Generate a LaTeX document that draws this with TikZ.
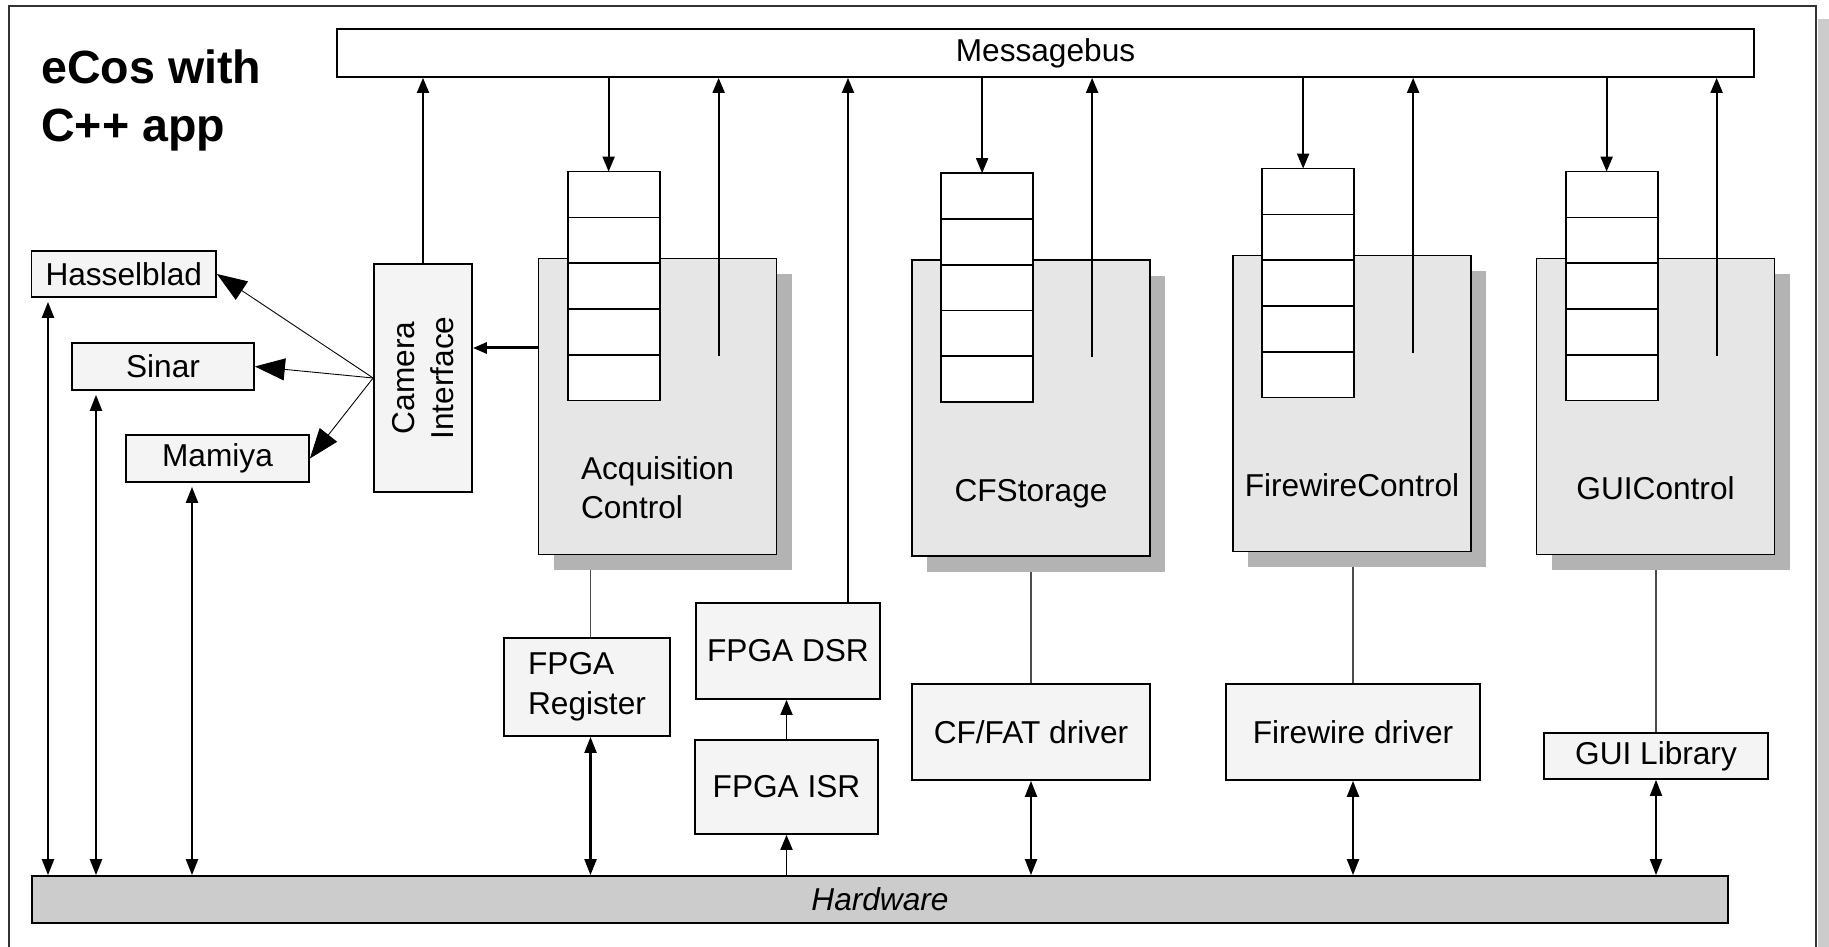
\documentclass[tikz,border=0pt]{standalone}
\usepackage{fontspec}
\setmainfont{Liberation Sans}
\usepackage{graphicx}
\usetikzlibrary{arrows.meta, positioning, shadows, backgrounds}
\definecolor{boxgray}{HTML}{F4F4F4}
\definecolor{modgray}{HTML}{E6E6E6}
\definecolor{shadowgray}{HTML}{B3B3B3}
\definecolor{hwgray}{HTML}{CCCCCC}
\tikzset{
    box/.style={rectangle, draw=black, line width=1pt, fill=boxgray, inner sep=0pt, align=center},
    module/.style={box, fill=modgray, minimum width=4.76cm, minimum height=5.92cm,
        drop shadow={shadow xshift=0.3cm, shadow yshift=-0.32cm, fill=shadowgray, opacity=1}},
    qcell/.style={rectangle, draw=black, line width=1pt, fill=white, minimum width=1.84cm, minimum height=0.916cm, inner sep=0pt, outer sep=0pt},
    title/.style={font=\fontsize{26.5}{33}\selectfont\bfseries, align=left, inner sep=0pt},
    arrow/.style={-{Triangle[length=0.3cm, width=0.24cm]}, line width=1.1pt},
    thickarrow/.style={-{Triangle[length=0.28cm, width=0.22cm]}, line width=1.7pt},
    dblarrow/.style={{Triangle[length=0.32cm, width=0.24cm]}-{Triangle[length=0.32cm, width=0.24cm]}, line width=1.2pt},
    fanarrow/.style={-{Triangle[length=0.6cm, width=0.44cm]}, line width=0.5pt},
    link/.style={line width=0.6pt, draw=black!70}
}

\begin{document}
\fontsize{18}{22.5}\selectfont
\begin{tikzpicture}
    \useasboundingbox (0,0) rectangle (36.58,18.94);
    \clip (0,0) rectangle (36.58,18.94);

    % outer frame with its shadow
    \fill[hwgray] (36.36,-1) rectangle (36.7,18.56);
    \draw[line width=0.8pt, black!80] (0.18,-1) rectangle (36.32,18.82);

    \node[title, anchor=base west] (title) at (0.82,16.10) {eCos with\\C++ app};

    % bus on top, hardware at the bottom
    \node[box, fill=white, minimum width=28.34cm, minimum height=0.96cm] (bus) at (20.91,17.88) {Messagebus};
    \node[box, fill=hwgray, minimum width=33.93cm, minimum height=0.94cm, font=\itshape] (hw) at (17.6,0.95) {Hardware};

    % cameras
    \node[box, minimum width=3.69cm, minimum height=0.92cm] (hassel) at (2.475,13.46) {Hasselblad};
    \node[box, minimum width=3.64cm, minimum height=0.94cm] (sinar) at (3.26,11.61) {Sinar};
    \node[box, minimum width=3.66cm, minimum height=0.94cm] (mamiya) at (4.35,9.77) {Mamiya};
    \node[box, minimum width=1.96cm, minimum height=4.56cm] (cam) at (8.46,11.38)
        {\rotatebox{90}{\parbox{4cm}{\centering Camera\\Interface}}};

    % application modules
    \node[module] (acq) at (13.15,10.81) {};
    \node[module] (cfs) at (20.62,10.78) {};
    \node[module] (fwc) at (27.04,10.87) {};
    \node[module] (guic) at (33.11,10.81) {};

    \node[align=left, anchor=base] (acqlbl) at (13.15,8.56) {Acquisition\\Control};
    \node[anchor=base] (cfslbl) at (20.62,8.91) {CFStorage};
    \node[anchor=base] (fwclbl) at (27.04,9.00) {FirewireControl};
    \node[anchor=base] (guiclbl) at (33.11,8.94) {GUIControl};

    % message queues, in and out of the bus
    \foreach \m in {acq,cfs,fwc,guic} {
        \node[qcell, anchor=north west] (\m-q1) at ([shift={(0.6,1.72)}]\m.north west) {};
        \foreach \i [count=\j from 2] in {1,...,4}
            \node[qcell, below=0pt of \m-q\i] (\m-q\j) {};
        \coordinate (\m-in) at ([xshift=-0.1cm]\m-q1.north);
        \draw[arrow] (\m-in |- bus.south) -- (\m-in);
        \coordinate (\m-out) at ([shift={(3.62,-1.96)}]\m.north west);
        \draw[arrow] (\m-out) -- (\m-out |- bus.south);
    }

    % drivers
    \node[box, align=left, minimum width=3.32cm, minimum height=1.96cm] (reg) at (11.74,5.20) {FPGA\\Register};
    \node[box, minimum width=3.68cm, minimum height=1.92cm] (dsr) at (15.76,5.92) {FPGA DSR};
    \node[box, minimum width=3.66cm, minimum height=1.88cm] (isr) at (15.73,3.20) {FPGA ISR};
    \node[box, minimum width=4.76cm, minimum height=1.92cm] (cfdrv) at (20.62,4.30) {CF/FAT driver};
    \node[box, minimum width=5.08cm, minimum height=1.92cm] (fwdrv) at (27.06,4.30) {Firewire driver};
    \node[box, minimum width=4.48cm, minimum height=0.92cm] (guilib) at (33.12,3.82) {GUI Library};

    % camera side
    \draw[arrow] (cam.north) -- (cam.north |- bus.south);
    \coordinate (acqcam) at ([yshift=1.17cm]acq.west);
    \draw[thickarrow] (acqcam) -- (acqcam -| cam.east);
    \foreach \c in {hassel,sinar,mamiya}
        \draw[fanarrow] (cam.west) -- (\c.east);

    % fpga path
    \draw[arrow] (isr.south |- hw.north) -- (isr.south);
    \draw[arrow] (isr.north) -- (isr.north |- dsr.south);
    \coordinate (dsrout) at ([xshift=1.2cm]dsr.north);
    \draw[arrow] (dsrout) -- (dsrout |- bus.south);

    % hardware access
    \foreach \c/\dx in {hassel/-1.515,sinar/-1.34,mamiya/-0.51} {
        \coordinate (\c-hw) at ([xshift=\dx cm, yshift=-0.08cm]\c.south);
        \draw[dblarrow] (\c-hw) -- (\c-hw |- hw.north);
    }
    \coordinate (reg-hw) at ([xshift=0.07cm]reg.south);
    \draw[dblarrow] (reg-hw) -- (reg-hw |- hw.north);
    \foreach \d in {cfdrv,fwdrv,guilib}
        \draw[dblarrow] (\d.south) -- (\d.south |- hw.north);

    \begin{scope}[on background layer]
        \draw[link] ([xshift=0.07cm]reg.north) -- (reg-hw |- acq.south);
        \draw[link] (cfdrv.north) -- (cfdrv.north |- cfs.south);
        \draw[link] (fwdrv.north) -- (fwdrv.north |- fwc.south);
        \draw[link] (guilib.north) -- (guilib.north |- guic.south);
    \end{scope}
\end{tikzpicture}
\end{document}
